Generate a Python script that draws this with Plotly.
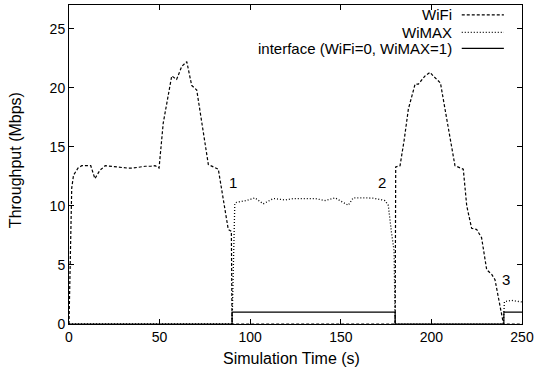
import plotly.graph_objects as go

# WiFi throughput (Mbps)
wifi_t = [0, 1.5, 2.5, 5, 7, 10, 12, 14.3, 17, 20, 25, 28, 32, 35.5, 40, 42, 45, 47.5, 49.7,
          52, 56.7, 59.4, 62.2, 65, 67.7, 70.5, 76.9, 82.4, 87.9, 89.6, 90,
          180, 180.3, 182.7, 185, 187.3, 191, 192.8, 196.5, 199.2, 201, 203.8, 205, 207.5,
          210, 213, 217.6, 219.5, 222.2, 225, 227.7, 230.5, 233.3, 235.1, 237.9, 239.8, 250]
wifi_v = [0, 11.5, 12.6, 13.2, 13.4, 13.4, 13.4, 12.3, 13.0, 13.4, 13.3, 13.3, 13.2, 13.2, 13.3,
          13.35, 13.35, 13.4, 13.2,
          17.0, 21.0, 20.7, 21.8, 22.2, 20.2, 19.8, 13.5, 13.1, 8.0, 7.85, 0,
          0, 13.3, 13.4, 15.6, 18.2, 20.3, 20.3, 21.0, 21.3, 21.0, 20.6, 20.4, 18.2,
          16.0, 13.4, 13.1, 10.0, 8.1, 8.0, 7.3, 4.6, 4.2, 3.75, 1.5, 0, 0]

# WiMAX throughput (Mbps)
wimax_t = [0, 90, 91.5, 92.5, 98, 102.6, 107.2, 112.8, 119.2, 123.8, 129.3, 135.8, 141.3,
           146.8, 154.1, 156.9, 163.4, 168, 174.4, 176.2, 178, 179.4, 180,
           239.7, 240.3, 244.3, 250]
wimax_v = [0, 0, 10.2, 10.3, 10.45, 10.68, 10.17, 10.62, 10.5, 10.62, 10.62, 10.62, 10.45,
           10.68, 10.05, 10.68, 10.68, 10.65, 10.45, 10.05, 7.7, 6.2, 0,
           0, 1.9, 2.0, 1.86]

# Interface (WiFi=0, WiMAX=1)
iface_t = [0, 90, 180, 240, 250]
iface_v = [0, 1, 0, 1, 1]

x_ticks = [0, 50, 100, 150, 200, 250]
y_ticks = [0, 5, 10, 15, 20, 25]

marks = ["1", "2", "3"]
marks_t = [90.3, 172.5, 241.3]
marks_v = [12.0, 12.0, 3.8]

legend_names = ["WiFi", "WiMAX", "interface (WiFi=0, WiMAX=1)"]
x_title = "Simulation Time (s)"
y_title = "Throughput (Mbps)"

FONT = "Liberation Sans, Arial, Helvetica, sans-serif"

fig = go.Figure()
fig.add_trace(go.Scatter(x=wifi_t, y=wifi_v, mode="lines", name=legend_names[0],
                         line=dict(color="black", width=1.2, dash="3px,2px")))
fig.add_trace(go.Scatter(x=wimax_t, y=wimax_v, mode="lines", name=legend_names[1],
                         line=dict(color="black", width=1.3, dash="1px,2px")))
fig.add_trace(go.Scatter(x=iface_t, y=iface_v, mode="lines", name=legend_names[2],
                         line=dict(color="black", width=1.2, shape="hv")))

for m, t, v in zip(marks, marks_t, marks_v):
    fig.add_annotation(x=t, y=v, text=m, showarrow=False, xref="x", yref="y",
                       font=dict(family=FONT, size=15, color="black"))

# gnuplot-style key: right-aligned text with line samples to the right
key_y = [0.969, 0.914, 0.864]
dashes = ["3px,2px", "1px,2px", "solid"]
for name, yy, d in zip(legend_names, key_y, dashes):
    fig.add_annotation(x=0.849, y=yy, xref="paper", yref="paper", text=name,
                       showarrow=False, xanchor="right", yanchor="middle",
                       font=dict(family=FONT, size=15, color="black"))
    fig.add_shape(type="line", xref="paper", yref="paper", x0=0.867, x1=0.960,
                  y0=yy, y1=yy, line=dict(color="black", width=1.2, dash=d))

# axis titles
fig.add_annotation(x=0.492, y=-0.107, xref="paper", yref="paper", text=x_title,
                   showarrow=False, xanchor="center", yanchor="middle",
                   font=dict(family=FONT, size=16, color="black"))
fig.add_annotation(x=-0.119, y=0.514, xref="paper", yref="paper", text=y_title,
                   showarrow=False, xanchor="center", yanchor="middle", textangle=-90,
                   font=dict(family=FONT, size=16, color="black"))

axis_common = dict(showgrid=False, zeroline=False, showline=True, mirror="ticks",
                   linecolor="black", linewidth=1, ticks="inside", ticklen=5,
                   tickcolor="black", automargin=False,
                   tickfont=dict(family=FONT, size=14, color="black"))

fig.update_layout(
    width=537, height=374,
    margin=dict(l=69, r=15, t=5, b=50),
    plot_bgcolor="white", paper_bgcolor="white",
    showlegend=False,
    hovermode=False,
    xaxis=dict(range=[0, 250], tickvals=x_ticks, **axis_common),
    yaxis=dict(range=[0, 27], tickvals=y_ticks, **axis_common),
)

fig.write_html("out.html", config={"displayModeBar": False, "staticPlot": True},
               post_script="document.body.style.margin='0';document.body.style.padding='0';")
